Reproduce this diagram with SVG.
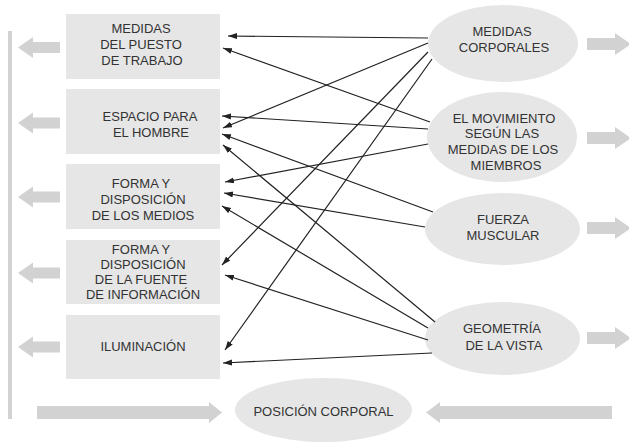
<svg xmlns="http://www.w3.org/2000/svg" width="629" height="443" viewBox="0 0 629 443">
<style>
.box{fill:#e6e6e7}
.ell{fill:#e6e6e6}
.big{fill:#d2d2d2}
.t{font-family:"Liberation Sans",Arial,sans-serif;font-size:13px;fill:#333;text-anchor:middle}
.c{stroke:#222;stroke-width:1.2;fill:none;marker-end:url(#ah)}
</style>
<defs>
<marker id="ah" markerUnits="userSpaceOnUse" markerWidth="10" markerHeight="8" refX="9" refY="3" orient="auto">
<path d="M0,0 L9,3 L0,6 Z" fill="#222"/>
</marker>
<path id="la" d="M0,0 L15,-10.5 L15,-5.5 L42,-5.5 L42,5.5 L15,5.5 L15,10.5 Z"/>
<path id="ra" d="M0,-6 L28,-6 L28,-11 L44,0 L28,11 L28,6 L0,6 Z"/>
</defs>
<rect x="8" y="31" width="4" height="388" class="big"/>
<g id="big-arrows" class="big">
<use href="#la" x="18" y="47.5"/>
<use href="#la" x="18" y="123"/>
<use href="#la" x="18" y="197"/>
<use href="#la" x="18" y="273"/>
<use href="#la" x="18" y="347"/>
<use href="#ra" x="587" y="44"/>
<use href="#ra" x="587" y="138"/>
<use href="#ra" x="587" y="228"/>
<use href="#ra" x="587" y="338"/>
<path d="M37,406 L209,406 L209,402 L222,412.5 L209,423 L209,419 L37,419 Z"/>
<path d="M426,412.5 L440,402 L440,406 L612,406 L612,419 L440,419 L440,423 Z"/>
</g>
<g id="n1"><rect class="box" x="66" y="14" width="154" height="65"/>
<text class="t"><tspan x="141" y="33">MEDIDAS</tspan><tspan x="141" y="49">DEL PUESTO</tspan><tspan x="142" y="65">DE TRABAJO</tspan></text></g>
<g id="n2"><rect class="box" x="66" y="89" width="154" height="65"/>
<text class="t"><tspan x="150" y="121">ESPACIO PARA</tspan><tspan x="151" y="137">EL HOMBRE</tspan></text></g>
<g id="n3"><rect class="box" x="66" y="164" width="154" height="65"/>
<text class="t"><tspan x="141" y="188">FORMA Y</tspan><tspan x="143" y="204">DISPOSICIÓN</tspan><tspan x="143" y="220">DE LOS MEDIOS</tspan></text></g>
<g id="n4"><rect class="box" x="66" y="240" width="154" height="64"/>
<text class="t"><tspan x="141" y="254">FORMA Y</tspan><tspan x="143" y="269">DISPOSICIÓN</tspan><tspan x="141" y="284">DE LA FUENTE</tspan><tspan x="143" y="299">DE INFORMACIÓN</tspan></text></g>
<g id="n5"><rect class="box" x="66" y="315" width="154" height="64"/>
<text class="t" x="143" y="351">ILUMINACIÓN</text></g>
<g id="e1"><ellipse class="ell" cx="503" cy="43.5" rx="75" ry="38.5"/>
<text class="t"><tspan x="502" y="36">MEDIDAS</tspan><tspan x="504" y="52">CORPORALES</tspan></text></g>
<g id="e2"><ellipse class="ell" cx="502" cy="137" rx="75" ry="45"/>
<text class="t"><tspan x="504" y="123">EL MOVIMIENTO</tspan><tspan x="502" y="138">SEGÚN LAS</tspan><tspan x="503" y="154">MEDIDAS DE LOS</tspan><tspan x="506" y="170">MIEMBROS</tspan></text></g>
<g id="e3"><ellipse class="ell" cx="502.5" cy="229" rx="77.5" ry="36"/>
<text class="t"><tspan x="503" y="224">FUERZA</tspan><tspan x="503" y="240">MUSCULAR</tspan></text></g>
<g id="e4"><ellipse class="ell" cx="502.5" cy="338.5" rx="77.5" ry="36.5"/>
<text class="t"><tspan x="502" y="333">GEOMETRÍA</tspan><tspan x="504" y="350">DE LA VISTA</tspan></text></g>
<g id="e5"><ellipse class="ell" cx="323.5" cy="410" rx="88.5" ry="32"/>
<text class="t" x="323.5" y="416">POSICIÓN CORPORAL</text></g>
<g id="connectors">
<line class="c" x1="428" y1="38" x2="228" y2="36"/>
<line class="c" x1="428" y1="43" x2="223" y2="128"/>
<line class="c" x1="428" y1="52" x2="222" y2="265"/>
<line class="c" x1="432" y1="59" x2="225" y2="350"/>
<line class="c" x1="430" y1="122" x2="223" y2="48"/>
<line class="c" x1="428" y1="129" x2="222" y2="116"/>
<line class="c" x1="428" y1="144" x2="225" y2="182"/>
<line class="c" x1="433" y1="212" x2="222" y2="134"/>
<line class="c" x1="425" y1="227" x2="224" y2="193"/>
<line class="c" x1="435" y1="322" x2="223" y2="145"/>
<line class="c" x1="428" y1="328" x2="222" y2="206"/>
<line class="c" x1="428" y1="340" x2="225" y2="275"/>
<line class="c" x1="432" y1="353" x2="223" y2="363"/>
</g>
</svg>
